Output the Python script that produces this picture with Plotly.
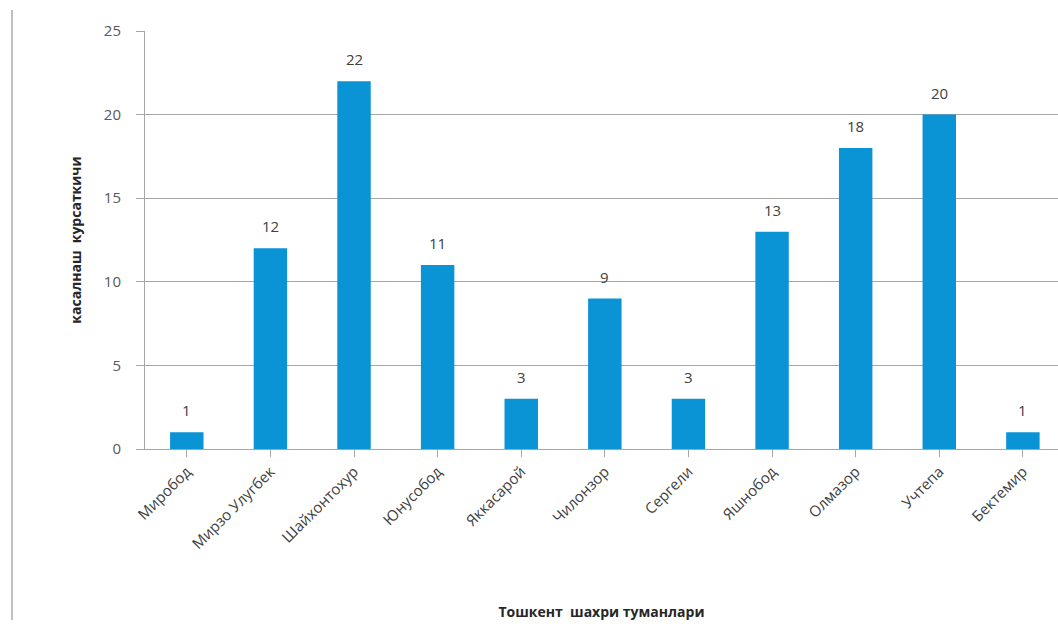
import plotly.graph_objects as go

districts = ["Миробод", "Мирзо Улугбек", "Шайхонтохур", "Юнусобод", "Яккасарой",
             "Чилонзор", "Сергели", "Яшнобод", "Олмазор", "Учтепа", "Бектемир"]
values = [1, 12, 22, 11, 3, 9, 3, 13, 18, 20, 1]
y_ticks = [0, 5, 10, 15, 20, 25]

W, H = 1058, 634
ml, mr, mt, mb = 145, 0, 31, 185
pw = W - ml - mr
ph = H - mt - mb

xs = list(range(len(districts)))

fig = go.Figure()
fig.add_trace(go.Bar(
    x=xs, y=values,
    marker=dict(color="#0A94D6", line=dict(width=0)),
    width=0.4,
))

for x, v in zip(xs, values):
    fig.add_annotation(x=x, y=v, text=str(v), showarrow=False,
                       yanchor="bottom", yshift=10,
                       font=dict(size=15, color="#404040", family="Open Sans"))

fig.update_layout(
    width=W, height=H,
    margin=dict(l=ml, r=mr, t=mt, b=mb),
    plot_bgcolor="white", paper_bgcolor="white",
    font=dict(family="Open Sans", color="#404040"),
    showlegend=False,
    xaxis=dict(
        tickmode="array", tickvals=xs, ticktext=districts,
        tickangle=-45, tickfont=dict(size=15, color="#404040"),
        range=[-0.5, 10.42],
        showline=True, linecolor="#A6A6A6", linewidth=1,
        ticks="outside", tickson="boundaries", ticklen=7, tickcolor="#A6A6A6",
        showgrid=False, zeroline=False,
        title=dict(text="<b>Тошкент  шахри туманлари</b>", font=dict(size=14, color="#262626"),
                   standoff=55),
    ),
    yaxis=dict(
        range=[0, 25], tickvals=y_ticks,
        tickfont=dict(size=15, color="#595959"),
        showgrid=True, gridcolor="#A6A6A6", gridwidth=1,
        showline=True, linecolor="#A6A6A6", linewidth=1,
        ticks="outside", ticklen=8, tickcolor="#A6A6A6",
        ticklabelstandoff=12,
        zeroline=False,
        title=dict(text="<b>касалнаш  курсаткичи</b>", font=dict(size=14, color="#262626"),
                   standoff=18),
    ),
)

# left border line of the original image
xline = (12 - ml) / pw
fig.add_shape(type="line", xref="paper", yref="paper",
              x0=xline, x1=xline,
              y0=(H - mb - 10) / ph, y1=(H - mb - 620) / ph,
              line=dict(color="#BFBFBF", width=2))

fig.write_html("out.html")
